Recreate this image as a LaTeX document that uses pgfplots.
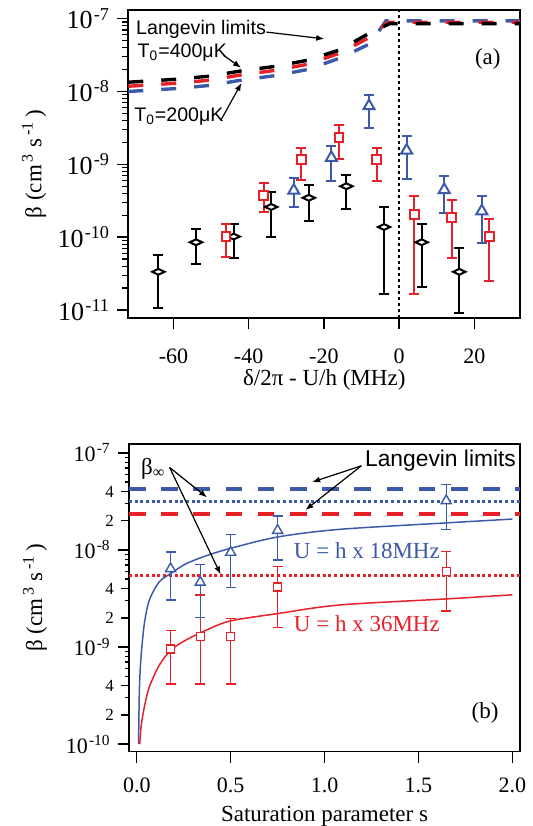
\documentclass[border=0pt]{standalone}
\usepackage{fontspec}
\setmainfont{Liberation Serif}
\setsansfont{Liberation Sans}
\usepackage{pgfplots}
\usepackage{pgfplotstable}
\pgfplotsset{compat=1.18}
\usetikzlibrary{arrows.meta}

\definecolor{pblue}{RGB}{60,90,168}
\definecolor{pred}{RGB}{232,32,40}

\newcommand{\dec}[1]{10\textsuperscript{\kern0.6pt#1}}

% wide open diamond
\pgfdeclareplotmark{wdiamond}{%
  \pgfpathmoveto{\pgfqpoint{\pgfplotmarksize}{0pt}}%
  \pgfpathlineto{\pgfqpoint{0pt}{0.47\pgfplotmarksize}}%
  \pgfpathlineto{\pgfqpoint{-\pgfplotmarksize}{0pt}}%
  \pgfpathlineto{\pgfqpoint{0pt}{-0.47\pgfplotmarksize}}%
  \pgfpathclose\pgfusepathqfillstroke}

% panel (a): x, value, top and bottom of error bar
\pgfplotstableread{
x y t b
-64 3.35e-11 5.67e-11 1.08e-11
-54 8.52e-11 1.28e-10 4.34e-11
-44 1.02e-10 1.54e-10 5.26e-11
-34 2.60e-10 4.20e-10 1.02e-10
-24 3.47e-10 5.27e-10 1.66e-10
-14 5.00e-10 7.22e-10 2.46e-10
-4 1.38e-10 2.60e-10 1.67e-11
6 8.52e-11 1.50e-10 2.09e-11
16 3.35e-11 7.10e-11 9.07e-12
}\blackA
\pgfplotstableread{
x y t b
-46 1.01e-10 1.50e-10 5.37e-11
-36 3.72e-10 5.47e-10 2.19e-10
-26 1.15e-9 1.67e-9 6.02e-10
-16 2.32e-9 3.42e-9 1.20e-9
-6 1.15e-9 1.68e-9 5.83e-10
4 2.07e-10 3.68e-10 1.64e-11
14 1.86e-10 3.22e-10 5.15e-11
24 1.01e-10 1.78e-10 2.51e-11
}\redA
\pgfplotstableread{
x y t b
-28 4.37e-10 6.49e-10 2.60e-10
-18 1.23e-9 1.80e-9 5.83e-10
-8 6.30e-9 8.97e-9 3.14e-9
2 1.55e-9 2.45e-9 6.20e-10
12 4.46e-10 6.92e-10 2.17e-10
22 2.28e-10 3.70e-10 8.43e-11
}\blueA
% panel (b)
\pgfplotstableread{
x y t b
0.18 6.40e-9 9.50e-9 3.05e-9
0.338 4.65e-9 7.12e-9 2.01e-9
0.5 9.44e-9 1.45e-8 4.08e-9
0.75 1.59e-8 2.24e-8 7.90e-9
1.648 3.21e-8 4.72e-8 1.62e-8
}\blueB
\pgfplotstableread{
x y t b
0.18 9.55e-10 1.49e-9 4.16e-10
0.338 1.29e-9 3.45e-9 4.16e-10
0.5 1.29e-9 1.96e-9 4.16e-10
0.75 4.15e-9 6.73e-9 1.58e-9
1.648 5.96e-9 9.67e-9 2.34e-9
}\redB

\pgfplotsset{panel/.style={
    scale only axis, clip=false,
    axis line style={line width=0.8pt},
    tick align=outside, tick pos=left,
    major tick length=5.6pt, minor tick length=3pt,
    every tick/.append style={line width=0.7pt, black},
    label style={font=\fontsize{11.5}{13}\selectfont},
}}
\pgfplotsset{ebars/.style={error bars/.cd, y dir=both, y explicit,
    error bar style={line width=#1},
    error mark options={rotate=90, mark size=2.5pt, line width=#1}}}
\tikzset{arr/.style={-{Latex[length=4pt,width=3pt]}, line width=0.6pt, black}}

\begin{document}
\begin{tikzpicture}
\path[use as bounding box] (0,0) rectangle (266pt,-413pt);

% ---------------- (a)
\begin{axis}[panel, ymode=log,
  at={(64.15pt,-5.1pt)}, anchor=north west,
  width=195.95pt, height=153.95pt,
  xmin=-72, xmax=32.2, ymin=7.76e-12, ymax=1.30e-7,
  xtick={-60,-40,-20,0,20}, xticklabels={-60,-40,-20,0,20},
  ytick={1e-11,1e-10,1e-9,1e-8,1e-7},
  yticklabels={\dec{-11},\dec{-10},\dec{-9},\dec{-8},\dec{-7}},
  minor ytick={2e-11,3e-11,4e-11,5e-11,6e-11,7e-11,8e-11,9e-11,
    2e-10,3e-10,4e-10,5e-10,6e-10,7e-10,8e-10,9e-10,
    2e-9,3e-9,4e-9,5e-9,6e-9,7e-9,8e-9,9e-9,
    2e-8,3e-8,4e-8,5e-8,6e-8,7e-8,8e-8,9e-8},
  yticklabel style={font=\fontsize{13}{14}\selectfont},
  xticklabel style={font=\fontsize{11}{12}\selectfont, yshift=-6pt},
  xlabel={δ/2π - U/h (MHz)},
  xlabel style={at={(axis description cs:0.5,-0.2017)}, anchor=center},
  ylabel={β (cm\textsuperscript{\,3} s\textsuperscript{\,-1}\,)},
  ylabel style={at={(axis description cs:-0.2405,0.5)}, anchor=center},
]
% Langevin limits
\addplot[pblue, line width=1.7pt, dash pattern=on 7.5pt off 9pt] coordinates {
  (-72,0.997e-8) (-68,1.027e-8) (-59.2,1.096e-8) (-50.4,1.207e-8) (-41.3,1.447e-8)
  (-32.8,1.649e-8) (-24.3,2.00e-8) (-15.7,2.87e-8) (-7.7,4.51e-8) (-3.5,9.29e-8) (32.2,9.29e-8)};
\addplot[pred, line width=1.7pt, dash pattern=on 7.5pt off 9pt] coordinates {
  (-72,1.178e-8) (-68,1.213e-8) (-59.2,1.294e-8) (-50.4,1.425e-8) (-41.3,1.709e-8)
  (-32.8,1.947e-8) (-24.3,2.36e-8) (-15.7,3.36e-8) (-7.7,5.57e-8) (-3.0,8.89e-8) (32.2,8.89e-8)};
\addplot[black, line width=1.7pt, dash pattern=on 7.5pt off 9pt] coordinates {
  (-72,1.337e-8) (-68,1.377e-8) (-59.2,1.469e-8) (-50.4,1.618e-8) (-41.3,1.94e-8)
  (-32.8,2.21e-8) (-24.3,2.68e-8) (-15.7,3.73e-8) (-7.7,6.38e-8) (-2.5,8.51e-8) (32.2,8.51e-8)};
% zero line
\addplot[black, line width=0.8pt, dash pattern=on 1.5pt off 1.5pt] coordinates {(0,7.76e-12) (0,1.30e-7)};
% data
\addplot[black, line width=1pt, only marks, mark=wdiamond, mark size=3.1pt,
  mark options={fill=white}, ebars=1pt] table[x=x, y=y,
  y error plus expr=\thisrow{t}-\thisrow{y}, y error minus expr=\thisrow{y}-\thisrow{b}] {\blackA};
\addplot[pred, line width=1pt, only marks, mark=square*, mark size=2.2pt,
  mark options={fill=white}, ebars=1pt] table[x=x, y=y,
  y error plus expr=\thisrow{t}-\thisrow{y}, y error minus expr=\thisrow{y}-\thisrow{b}] {\redA};
\addplot[pblue, line width=1pt, only marks, mark=triangle*, mark size=3.2pt,
  mark options={fill=white}, ebars=1pt] table[x=x, y=y,
  y error plus expr=\thisrow{t}-\thisrow{y}, y error minus expr=\thisrow{y}-\thisrow{b}] {\blueA};
% labels
\node[anchor=west, inner sep=0pt, font=\sffamily\fontsize{9.8}{11}\selectfont] at (axis cs:-70.0,7.02e-8) {Langevin limits};
\draw[arr] (axis cs:-35.3,6.52e-8) -- (axis cs:-19.9,5.26e-8);
\node[anchor=west, inner sep=0pt, font=\sffamily\fontsize{9.8}{11}\selectfont] at (axis cs:-69.6,3.42e-8) {T\textsubscript{0}=400μK};
\draw[arr] (axis cs:-46.5,3.08e-8) -- (axis cs:-42.0,2.11e-8);
\node[anchor=west, inner sep=0pt, font=\sffamily\fontsize{9.8}{11}\selectfont] at (axis cs:-70.5,4.47e-9) {T\textsubscript{0}=200μK};
\draw[arr] (axis cs:-47.4,4.01e-9) -- (axis cs:-41.9,1.31e-8);
\node[inner sep=0pt, font=\fontsize{11.5}{13}\selectfont] at (axis cs:23.6,2.76e-8) {(a)};
\end{axis}

% ---------------- (b)
\begin{axis}[panel, ymode=log,
  at={(64.45pt,-221.9pt)}, anchor=north west,
  width=195.65pt, height=153.8pt,
  xmin=-0.042, xmax=2.042, ymin=8.4e-11, ymax=1.24e-7,
  xtick={0,0.5,1,1.5,2}, xticklabels={0.0,0.5,1.0,1.5,2.0},
  ytick={1e-10,1e-9,1e-8,1e-7},
  yticklabels={\dec{-10},\dec{-9},\dec{-8},\dec{-7}},
  minor ytick={3e-10,5e-10,6e-10,7e-10,8e-10,9e-10,
    3e-9,5e-9,6e-9,7e-9,8e-9,9e-9,
    3e-8,5e-8,6e-8,7e-8,8e-8,9e-8},
  extra y ticks={2e-10,4e-10,2e-9,4e-9,2e-8,4e-8},
  extra y tick labels={2,4,2,4,2,4},
  extra y tick style={major tick length=4pt,
    yticklabel style={font=\fontsize{8.5}{9}\selectfont}},
  minor tick length=2.2pt,
  yticklabel style={font=\fontsize{11}{12}\selectfont},
  xticklabel style={font=\fontsize{11}{12}\selectfont, yshift=-4pt},
  xlabel={Saturation parameter s},
  xlabel style={at={(axis description cs:0.5,-0.2107)}, anchor=center},
  ylabel={β (cm\textsuperscript{\,3} s\textsuperscript{\,-1}\,)},
  ylabel style={at={(axis description cs:-0.24,0.5)}, anchor=center},
]
% Langevin limits and beta_infinity
\addplot[pblue, line width=1.7pt, dash pattern=on 8.3pt off 7.8pt] coordinates {(-0.042,4.26e-8) (2.042,4.26e-8)};
\addplot[pblue, line width=1.5pt, dash pattern=on 1.5pt off 1.35pt] coordinates {(-0.042,3.16e-8) (2.042,3.16e-8)};
\addplot[pred, line width=1.7pt, dash pattern=on 8.3pt off 7.8pt] coordinates {(-0.042,2.34e-8) (2.042,2.34e-8)};
\addplot[pred, line width=1.5pt, dash pattern=on 1.5pt off 1.35pt] coordinates {(-0.042,5.45e-9) (2.042,5.45e-9)};
% model curves
\addplot[pblue, line width=0.75pt, smooth] coordinates {
  (0.0095,1.0e-10) (0.0138,3.6e-10) (0.0226,7.9e-10) (0.0404,1.75e-9) (0.067,3.05e-9)
  (0.12,4.7e-9) (0.182,5.74e-9) (0.262,7.2e-9) (0.369,8.7e-9) (0.5,1.04e-8)
  (0.75,1.36e-8) (1.079,1.63e-8) (1.648,1.90e-8) (2.0,2.08e-8)};
\addplot[pred, line width=0.75pt, smooth] coordinates {
  (0.016,1.0e-10) (0.0226,1.5e-10) (0.0404,2.42e-10) (0.067,3.89e-10) (0.12,6.5e-10)
  (0.182,9.3e-10) (0.262,1.18e-9) (0.369,1.49e-9) (0.5,1.86e-9) (0.75,2.21e-9)
  (1.079,2.71e-9) (1.648,3.13e-9) (2.0,3.45e-9)};
% data
\addplot[pred, line width=0.7pt, only marks, mark=square*, mark size=2pt,
  mark options={fill=white}, ebars=0.7pt] table[x=x, y=y,
  y error plus expr=\thisrow{t}-\thisrow{y}, y error minus expr=\thisrow{y}-\thisrow{b}] {\redB};
\addplot[pblue, line width=0.7pt, only marks, mark=triangle*, mark size=2.9pt,
  mark options={fill=white}, ebars=0.7pt] table[x=x, y=y,
  y error plus expr=\thisrow{t}-\thisrow{y}, y error minus expr=\thisrow{y}-\thisrow{b}] {\blueB};
% labels
\node[anchor=west, inner sep=0pt, font=\fontsize{11.5}{13}\selectfont] at (axis cs:0.0216,6.9e-8) {β\textsubscript{∞}};
\draw[arr] (axis cs:0.175,7.07e-8) -- (axis cs:0.374,3.48e-8);
\draw[arr] (axis cs:0.175,7.07e-8) -- (axis cs:0.4465,5.59e-9);
\node[anchor=west, inner sep=0pt, font=\sffamily\fontsize{11.4}{13}\selectfont] at (axis cs:1.214,8.31e-8) {Langevin limits};
\draw[arr] (axis cs:1.196,7.36e-8) -- (axis cs:0.934,5.0e-8);
\draw[arr] (axis cs:1.196,7.36e-8) -- (axis cs:0.898,2.58e-8);
\node[anchor=west, inner sep=0pt, text=pblue, font=\fontsize{11.5}{13}\selectfont] at (axis cs:0.835,9.84e-9) {U = h x 18MHz};
\node[anchor=west, inner sep=0pt, text=pred, font=\fontsize{11.5}{13}\selectfont] at (axis cs:0.835,1.74e-9) {U = h x 36MHz};
\node[inner sep=0pt, font=\fontsize{11.5}{13}\selectfont] at (axis cs:1.855,2.07e-10) {(b)};
\end{axis}
\end{tikzpicture}
\end{document}
